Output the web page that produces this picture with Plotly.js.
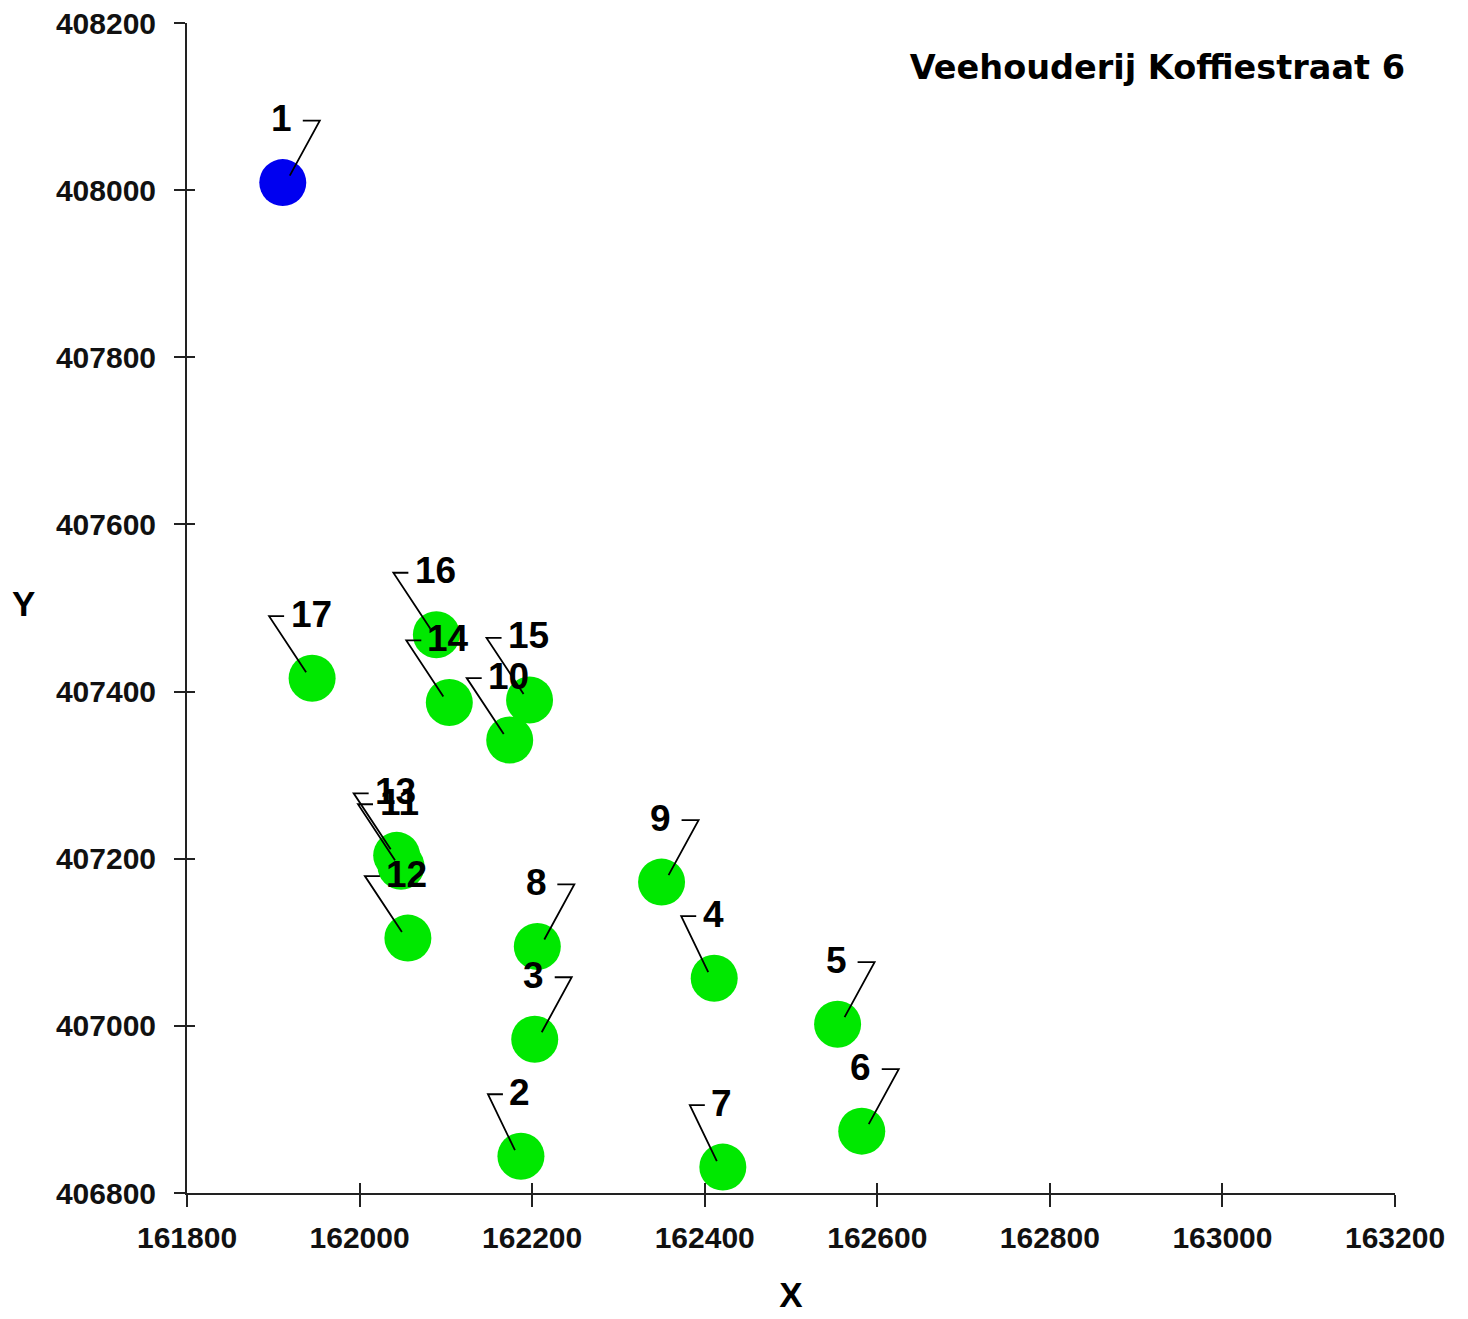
<!DOCTYPE html>
<html>
<head>
<meta charset="utf-8">
<script src="https://cdn.plot.ly/plotly-3.0.1.min.js"></script>
<style>html,body{margin:0;padding:0;background:#fff;}#chart{width:1468px;height:1319px;}</style>
</head>
<body>
<div id="chart"></div>
<script>
// ---- data ----
const pointIds = ['1','2','3','4','5','6','7','8','9','10','11','12','13','14','15','16','17'];
const pointX = [161911,162187,162203,162411,162554,162582,162421,162206,162350,162174,162048,162056,162043,162104,162197,162089,161945];
const pointY = [408009,406844,406984,407057,407002,406874,406831,407095,407172,407342,407191,407105,407204,407387,407390,407468,407416];
const pointType = ['bron','ontvanger','ontvanger','ontvanger','ontvanger','ontvanger','ontvanger','ontvanger','ontvanger','ontvanger','ontvanger','ontvanger','ontvanger','ontvanger','ontvanger','ontvanger','ontvanger'];
const xTickVals = [161800,162000,162200,162400,162600,162800,163000,163200];
const yTickVals = [406800,407000,407200,407400,407600,407800,408000,408200];
const chartTitle = 'Veehouderij Koffiestraat 6';

// ---- style ----
const typeColor = {bron:'#0000f0', ontvanger:'#00e800'};
// label placement: 'R' = leader goes up-right to the right of the label, 'L' = leader goes up-left
const labelSide = ['R','L','R','L','R','R','L','R','R','L','L','L','L','L','L','L','L'];
const labelFont = {family:'"Liberation Sans", Arial, sans-serif', size:37, color:'#000', weight:'bold'};
const tickFont = {family:'"Liberation Sans", Arial, sans-serif', size:30, color:'#111', weight:'bold'};
const axisColor = '#222';

const traces = [{
  type:'scatter', mode:'markers',
  x: pointX, y: pointY,
  marker:{size:47, color: pointType.map(t => typeColor[t]), line:{width:0}},
  hoverinfo:'skip', showlegend:false
},{
  type:'scatter', mode:'markers',
  x: pointX, y: pointY, xaxis:'x2', yaxis:'y2',
  marker:{size:1, opacity:0},
  hoverinfo:'skip', showlegend:false
}];

const shapes = [];
const annotations = [];
pointIds.forEach((id, i) => {
  const right = labelSide[i] === 'R';
  const halfW = id.length * 10;
  let path;
  if (right) {
    const c = halfW + 27;
    path = 'M 7 7 L ' + c + ' 62 L ' + (c - 17) + ' 62';
  } else {
    const c = -(halfW + 23);
    path = 'M -6 6 L ' + c + ' 62 L ' + (c + 15) + ' 62';
  }
  shapes.push({
    type:'path', xref:'x', yref:'y',
    xsizemode:'pixel', ysizemode:'pixel',
    xanchor: pointX[i], yanchor: pointY[i],
    path: path,
    line:{color:'#000', width:1.8}, layer:'above'
  });
  annotations.push({
    x: pointX[i], y: pointY[i], xref:'x', yref:'y',
    text: id, showarrow:false,
    xanchor:'center', yanchor:'middle',
    xshift: -1, yshift: 64,
    font: labelFont
  });
});
annotations.push({
  xref:'paper', yref:'paper', x:-0.135, y:0.504,
  text:'Y', showarrow:false, xanchor:'center', yanchor:'middle',
  font:{family:'"Liberation Sans", Arial, sans-serif', size:35, color:'#000', weight:'bold'}
});

const axisCommon = {
  showgrid:false, zeroline:false, showline:true, linecolor:axisColor, linewidth:2,
  ticks:'outside', ticklen:12, tickwidth:2, tickcolor:axisColor,
  tickfont: tickFont, tickmode:'array'
};

const layout = {
  width:1468, height:1319,
  margin:{l:187, r:73, t:23, b:126},
  paper_bgcolor:'#fff', plot_bgcolor:'#fff',
  title:{text: chartTitle, x:1405/1468, xanchor:'right', y:1-67/1319, yanchor:'middle',
         font:{family:'"DejaVu Sans", sans-serif', size:33.5, color:'#000', weight:'bold'}},
  xaxis: Object.assign({}, axisCommon, {
    range:[161800,163200], tickvals:xTickVals, ticktext:xTickVals.map(String),
    title:{text:'X', font:{family:'"Liberation Sans", Arial, sans-serif', size:35, color:'#000', weight:'bold'}, standoff:29},
    ticklabelstandoff:5
  }),
  yaxis: Object.assign({}, axisCommon, {
    range:[406800,408200], tickvals:yTickVals, ticktext:yTickVals.map(String),
    ticklen:11, ticklabelstandoff:12
  }),
  xaxis2:{overlaying:'x', anchor:'y', side:'bottom', range:[161800,163200], tickmode:'array', tickvals:xTickVals,
    ticks:'inside', ticklen:10, tickwidth:2, tickcolor:axisColor, showticklabels:false, showline:false,
    showgrid:false, zeroline:false},
  yaxis2:{overlaying:'y', anchor:'x', side:'left', range:[406800,408200], tickmode:'array', tickvals:yTickVals,
    ticks:'inside', ticklen:8, tickwidth:2, tickcolor:axisColor, showticklabels:false, showline:false,
    showgrid:false, zeroline:false},
  shapes: shapes,
  annotations: annotations,
  showlegend:false,
  hovermode:false
};

Plotly.newPlot('chart', traces, layout, {staticPlot:true, displayModeBar:false});
</script>
</body>
</html>
